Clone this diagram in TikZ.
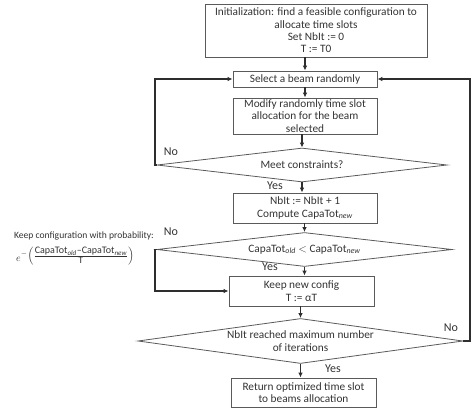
\documentclass[tikz,border=0pt]{standalone}
\usepackage{fontspec}
\setmainfont{Carlito}
\usetikzlibrary{arrows.meta,shapes.geometric}
\definecolor{boxgray}{HTML}{5A5A5A}
\definecolor{txtgray}{HTML}{333333}
\definecolor{linegray}{HTML}{2E2E2E}
\begin{document}
\begin{tikzpicture}[x=1pt,y=-1pt,
  box/.style={draw=boxgray, line width=0.8pt, rectangle, align=center, inner sep=0pt,
    text=txtgray, font=\fontsize{11.3}{12.4}\selectfont},
  dia/.style={draw=boxgray, line width=0.8pt, diamond, align=center, inner sep=0pt,
    text=txtgray, font=\fontsize{11.3}{12.4}\selectfont},
  arr/.style={draw=linegray, line width=1.3pt, -{Latex[length=5pt,width=4.5pt]}},
  lbl/.style={text=txtgray, font=\fontsize{12}{13}\selectfont, inner sep=0pt}]
\useasboundingbox (0,0) rectangle (472,413);

\node[box, minimum width=222pt, minimum height=53pt] (init) at (316,30.5)
  {Initialization: find a feasible configuration to\\allocate time slots\\Set NbIt := 0\\T := T0};
\node[box, minimum width=144pt, minimum height=16pt] (select) at (305,79) {Select a beam randomly};
\node[box, minimum width=144pt, minimum height=36pt] (modify) at (305,116)
  {Modify randomly time slot\\allocation for the beam\\selected};
\node[dia, minimum width=290pt, minimum height=34pt, shape aspect=8.5] (meet) at (302,165)
  {Meet constraints?};
\node[box, minimum width=144pt, minimum height=30pt] (nbit) at (305,208)
  {NbIt := NbIt + 1\\Compute CapaTot$_{\mathit{new}}$};
\node[dia, minimum width=295pt, minimum height=34pt, shape aspect=8.7] (capa) at (304.5,249.5)
  {CapaTot$_{\mathit{old}}$ $<$ CapaTot$_{\mathit{new}}$};
\node[box, minimum width=145pt, minimum height=30pt] (keep) at (301.5,291)
  {Keep new config\\T := αT};
\node[dia, minimum width=325pt, minimum height=45pt, shape aspect=7.2] (iter) at (300.5,341)
  {NbIt reached maximum number\\of iterations};
\node[box, minimum width=145pt, minimum height=29pt] (ret) at (303.5,392.5)
  {Return optimized time slot\\to beams allocation};

\coordinate (L) at (155,0);
\coordinate (R) at (470,0);

\draw[arr] (init.south -| select.north) -- (select.north);
\draw[arr] (select) -- (modify);
\draw[arr] (modify.south -| meet.north) -- (meet.north);
\draw[arr] (meet.south) -- (meet.south |- nbit.north);
\draw[arr] (nbit.south -| capa.north) -- (capa.north);
\draw[arr] (capa.south) -- (capa.south |- keep.north);
\draw[arr] (keep.south -| iter.north) -- (iter.north);
\draw[arr] (iter.south) -- (iter.south |- ret.north);

\draw[arr] (meet.west) -- (meet.west -| L) |- (select.west);
\draw[arr] (capa.west) -- (capa.west -| L) |- (keep.west);
\draw[arr] (iter.east) -- (iter.east -| R) |- (select.east);

\node[lbl] (no1) at (171,152) {No};
\node[lbl] (no2) at (171,232) {No};
\node[lbl] (no3) at (451,328) {No};
\node[lbl] (yes1) at (275,186) {Yes};
\node[lbl] (yes2) at (270,267) {Yes};
\node[lbl] (yes3) at (333,369) {Yes};

\node[text=txtgray, font=\fontsize{9.6}{11}\selectfont, inner sep=0pt, anchor=east] (prob) at (154,236)
  {Keep configuration with probability:};
\node[text=txtgray, font=\fontsize{10}{11}\selectfont, inner sep=0pt, anchor=north west] (formula) at (16,247)
  {$e$\raisebox{3pt}{$^{-}\!\left(\frac{\mbox{\fontsize{10}{11}\selectfont CapaTot$_{\mathit{old}}$--CapaTot$_{\mathit{new}}$}}{\mbox{\fontsize{10}{11}\selectfont T}}\right)$}};
\end{tikzpicture}
\end{document}
